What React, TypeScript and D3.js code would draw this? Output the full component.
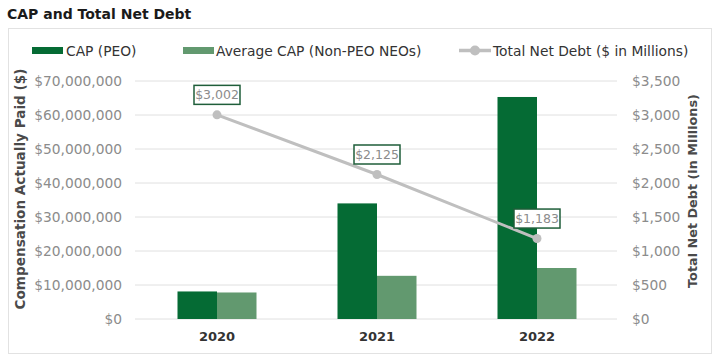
import React from "react";
import * as d3 from "d3";

const years = ["2020", "2021", "2022"];
const capPeo = [8100000, 34000000, 65300000];
const capNeo = [7800000, 12700000, 15000000];
const netDebt = [3002, 2125, 1183];
const leftTicks = [0, 10000000, 20000000, 30000000, 40000000, 50000000, 60000000, 70000000];
const rightTicks = [0, 500, 1000, 1500, 2000, 2500, 3000, 3500];

const W = 719, H = 358;
const FONT = "'DejaVu Sans', sans-serif";
const C_PEO = "#056b34";
const C_NEO = "#62996f";
const C_LINE = "#bfbfbf";

export default function App() {
  const x = d3.scaleBand().domain(years).range([137, 617]);
  const yL = d3.scaleLinear().domain([0, 70000000]).range([319, 81]);
  const yR = d3.scaleLinear().domain([0, 3500]).range([319, 81]);
  const barW = 39.5;
  const fmt = (v: number) => "$" + d3.format(",")(v);
  const cx = (y: string) => (x(y) as number) + x.bandwidth() / 2;
  const line = d3.line<number>().x((_, i) => cx(years[i])).y((d) => yR(d));

  return (
    <svg width={W} height={H} style={{ position: "absolute", left: 0, top: 0, background: "#fff" }} fontFamily={FONT}>
      <text x={7} y={19} fontSize={14} fontWeight="bold" fill="#1a1a1a">CAP and Total Net Debt</text>
      <rect x={8.5} y={28.5} width={703} height={325} fill="none" stroke="#e2e2e2" strokeWidth={1} />
      {/* legend */}
      <rect x={32} y={47} width={31} height={7} fill={C_PEO} />
      <text x={66} y={55.5} fontSize={13.8} fill="#333">CAP (PEO)</text>
      <rect x={183} y={47} width={31} height={7} fill={C_NEO} />
      <text x={216} y={55.5} fontSize={13.8} fill="#333">Average CAP (Non-PEO NEOs)</text>
      <line x1={459} x2={491} y1={50.5} y2={50.5} stroke={C_LINE} strokeWidth={3.5} />
      <circle cx={475} cy={50.5} r={5} fill={C_LINE} />
      <text x={493} y={55.5} fontSize={13.8} fill="#333">Total Net Debt ($ in Millions)</text>
      {/* gridlines */}
      {leftTicks.map((t) => (
        <line key={t} x1={135} x2={617} y1={yL(t)} y2={yL(t)} stroke="#e0e0e0" strokeWidth={1} />
      ))}
      {leftTicks.map((t) => (
        <text key={"l" + t} x={122} y={yL(t) + 5} fontSize={13.8} fill="#8c8c8c" textAnchor="end">{fmt(t)}</text>
      ))}
      {rightTicks.map((t) => (
        <text key={"r" + t} x={632} y={yR(t) + 5} fontSize={13.8} fill="#8c8c8c">{fmt(t)}</text>
      ))}
      <text transform={`translate(25,189) rotate(-90)`} fontSize={13.6} fontWeight="bold" fill="#4a4a4a" textAnchor="middle">Compensation Actually Paid ($)</text>
      <text transform={`translate(697,191) rotate(-90)`} fontSize={12.8} fontWeight="bold" fill="#4a4a4a" textAnchor="middle">Total Net Debt (in Millions)</text>
      {/* bars */}
      {years.map((y, i) => (
        <g key={y}>
          <rect x={cx(y) - barW} y={yL(capPeo[i])} width={barW} height={yL(0) - yL(capPeo[i])} fill={C_PEO} />
          <rect x={cx(y)} y={yL(capNeo[i])} width={barW} height={yL(0) - yL(capNeo[i])} fill={C_NEO} />
          <text x={cx(y)} y={341} fontSize={13} fontWeight="bold" fill="#333" textAnchor="middle">{y}</text>
        </g>
      ))}
      {/* line */}
      <path d={line(netDebt) as string} fill="none" stroke={C_LINE} strokeWidth={3} />
      {netDebt.map((v, i) => (
        <circle key={i} cx={cx(years[i])} cy={yR(v)} r={4.5} fill={C_LINE} />
      ))}
      {netDebt.map((v, i) => {
        const px = cx(years[i]);
        const py = yR(v);
        return (
          <g key={"lab" + i}>
            <rect x={px - 23} y={py - 29.5} width={46} height={19} fill="#fff" stroke="#1f5e3a" strokeWidth={1.5} />
            <text x={px} y={py - 15.5} fontSize={12.5} fill="#8c8c8c" textAnchor="middle">{fmt(v)}</text>
          </g>
        );
      })}
    </svg>
  );
}
